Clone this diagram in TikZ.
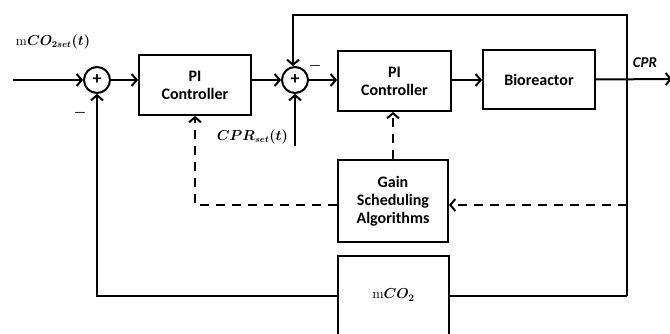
\documentclass[tikz,border=0pt]{standalone}
\usepackage{fontspec}
\setsansfont{Carlito}
\usepackage{amsmath,bm}
\usetikzlibrary{arrows.meta}
\begin{document}
\begin{tikzpicture}[x=1pt,y=-1pt,
  line width=2pt,
  blk/.style={draw,line width=2pt,font=\sffamily\bfseries\fontsize{16}{18}\selectfont,align=center,inner sep=0pt},
  sumc/.style={draw,circle,line width=2pt,minimum size=26pt,inner sep=0pt,font=\sffamily\bfseries\fontsize{18}{18}\selectfont},
  arr/.style={-{Straight Barb[length=5pt,width=12pt,line width=2pt]}},
  dsh/.style={dash pattern=on 9pt off 7pt},
  lbl/.style={font=\fontsize{13.5}{15}\selectfont,inner sep=0pt},
  minus/.style={font=\fontsize{15}{15}\selectfont,inner sep=0pt}]
\useasboundingbox (0,0) rectangle (670,334);
\fill[white] (0,0) rectangle (670,334);
% nodes
\node[sumc] (s1) at (97,80) {+};
\node[sumc] (s2) at (295,80) {+};
\node[blk,minimum width=112pt,minimum height=60pt] (pi1) at (195,85) {PI\\Controller};
\node[blk,minimum width=113pt,minimum height=60pt] (pi2) at (394.5,81) {PI\\Controller};
\node[blk,minimum width=112pt,minimum height=59pt] (bio) at (539,79.5) {Bioreactor};
\node[blk,minimum width=110pt,minimum height=82pt] (gain) at (393,201) {Gain\\Scheduling\\Algorithms};
\node[blk,minimum width=111pt,minimum height=100pt] (mco2) at (393.5,306) {};
\node[lbl,font=\fontsize{14}{15}\selectfont] (mco2t) at (393.5,295) {$\mathrm{m}\bm{CO_2}$};
% labels
\node[lbl,anchor=west] (lin) at (15,42) {$\mathrm{m}\bm{CO_{2set}}\bm{(t)}$};
\node[lbl,anchor=east] (lcpr) at (289,137) {$\bm{CPR_{set}}\bm{(t)}$};
\node[font=\sffamily\bfseries\itshape\fontsize{15}{16}\selectfont,inner sep=0pt] (lout) at (645,63) {CPR};
\node[minus] (m1) at (80,113) {$\bm{-}$};
\node[minus] (m2) at (315,66) {$\bm{-}$};
% coordinates
\coordinate (in) at (13,80);
\coordinate (out) at (672,79);
\coordinate (tr) at (627,15);
\coordinate (tl) at (293,15);
\coordinate (br) at (627,296);
\coordinate (bl) at (97,296);
\coordinate (cb) at (295,146);
\coordinate (gr) at (627,205);
\coordinate (gl) at (195,205);
% connectors
\draw[arr] (in) -- (s1.west);
\draw[arr] (s1.east) -- (s1.east -| pi1.west);
\draw[arr] (s1.east -| pi1.east) -- (s2.west);
\draw[arr] (s2.east) -- (s2.east -| pi2.west);
\draw[arr] (s2.east -| pi2.east) -- (s2.east -| bio.west);
\draw[arr] (bio.east) -- (out);
\draw[arr] (cb) -- (s2.south);
\draw[arr] (br) -- (tr) -- (tl) -- (s2.north -| tl);
\draw (br) -- (br -| mco2.east);
\draw[arr] (br -| mco2.west) -- (bl) -- (s1.south);
\draw[arr,dsh] (gr) -- (gr -| gain.east);
\draw[arr,dsh] (gain.north) -- (pi2.south -| gain.north);
\draw[arr,dsh] (gr -| gain.west) -- (gl) -- (pi1.south);
\end{tikzpicture}
\end{document}
